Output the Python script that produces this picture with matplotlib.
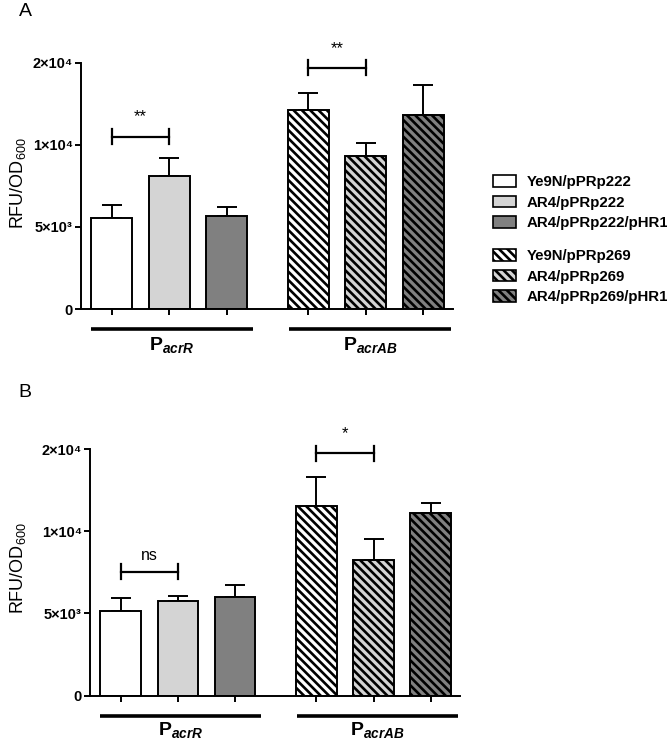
import numpy as np
import matplotlib
matplotlib.use('Agg')
import matplotlib.pyplot as plt
from matplotlib.patches import Patch
import matplotlib.transforms as mtransforms

plt.rcParams['font.family'] = ['Liberation Sans', 'DejaVu Sans']
plt.rcParams['mathtext.fontset'] = 'custom'
plt.rcParams['mathtext.rm'] = 'Liberation Sans'
plt.rcParams['mathtext.it'] = 'Liberation Sans:italic:bold'
plt.rcParams['mathtext.bf'] = 'Liberation Sans:bold'
plt.rcParams['hatch.linewidth'] = 1.9
plt.rcParams['hatch.color'] = 'black'

# Datos
strains = ['Ye9N/pPRp222', 'AR4/pPRp222', 'AR4/pPRp222/pHR1',
           'Ye9N/pPRp269', 'AR4/pPRp269', 'AR4/pPRp269/pHR1']
groups = [r'$\mathbf{P}_{acrR}$', r'$\mathbf{P}_{acrAB}$']

mean_A = [5570, 8110, 5650, 12120, 9310, 11850]
sem_A  = [770, 1100, 550, 1050, 830, 1810]

mean_B = [5170, 5740, 6000, 11520, 8270, 11130]
sem_B  = [755, 325, 710, 1800, 1280, 570]

yticks = [0, 5000, 10000, 15000]
ytick_labels = ['0', '5×10³', '1×10⁴', '2×10⁴']

# comparaciones: (barra i, barra j, texto, altura)
sig_A = [(0, 1, '**', 10510), (3, 4, '**', 14700)]
sig_B = [(0, 1, 'ns', 7540), (3, 4, '*', 14745)]

fills = ['white', '#d4d4d4', '#808080', 'white', '#d4d4d4', '#808080']
hatches = [None, None, None, '\\\\\\\\', '\\\\\\\\', '\\\\\\\\']
xpos = np.array([0, 1, 2, 3.42, 4.42, 5.42])

fig = plt.figure(figsize=(6.67, 7.39), dpi=100)
axA = fig.add_axes([81/667, 1-309/739, 371.7/667, 246/739])
axB = fig.add_axes([90/667, 1-695.7/739, 370/667, 246.7/739])


def panel(ax, means, sems, sigs, label_y):
    for i in range(6):
        ax.bar(xpos[i], means[i], width=0.71, color=fills[i], edgecolor='black',
               linewidth=1.4, hatch=hatches[i], zorder=2)
    ax.errorbar(xpos, means, yerr=[np.zeros(6), sems], fmt='none', ecolor='black',
                elinewidth=1.4, capsize=7, capthick=1.4, zorder=1)
    ax.set_xlim(-0.535, 5.93)
    ax.set_ylim(0, 15000)
    ax.set_yticks(yticks)
    ax.set_yticklabels(ytick_labels, fontsize=10.5, fontweight='bold')
    ax.set_xticks(xpos)
    ax.set_xticklabels([])
    for s in ['top', 'right']:
        ax.spines[s].set_visible(False)
    for s in ['left', 'bottom']:
        ax.spines[s].set_linewidth(1.4)
    ax.tick_params(axis='both', width=1.4, length=4, pad=2)

    # grupos bajo el eje
    trans = mtransforms.blended_transform_factory(ax.transData, ax.transAxes)
    for (x0, x1), lab in zip([(-0.365, 2.45), (3.09, 5.9)], groups):
        ax.plot([x0, x1], [-0.083, -0.083], color='black', lw=2.6,
                transform=trans, clip_on=False, solid_capstyle='butt')
        ax.text((x0 + x1) / 2, label_y, lab, transform=trans, ha='center',
                va='baseline', fontsize=14)

    # barras de significancia
    for i, j, txt, y in sigs:
        h = 460
        ax.plot([xpos[i], xpos[j]], [y, y], color='black', lw=1.6, clip_on=False)
        ax.plot([xpos[i], xpos[i]], [y - h, y + h], color='black', lw=1.6, clip_on=False)
        ax.plot([xpos[j], xpos[j]], [y - h, y + h], color='black', lw=1.6, clip_on=False)
        if txt == 'ns':
            ax.text((xpos[i] + xpos[j]) / 2, y + 1000, txt, ha='center', va='center',
                    fontsize=11.5, clip_on=False)
        else:
            ax.text((xpos[i] + xpos[j]) / 2, y + 1200, txt, ha='center', va='center',
                    fontsize=12, clip_on=False)


panel(axA, mean_A, sem_A, sig_A, -41/246)
panel(axB, mean_B, sem_B, sig_B, -39/246.7)

fig.text(18/667, 1-183/739, r'RFU/OD$_{600}$', rotation=90, fontsize=13,
         ha='center', va='center')
fig.text(18/667, 1-568/739, r'RFU/OD$_{600}$', rotation=90, fontsize=13,
         ha='center', va='center')

fig.text(25/667, 1-12/739, 'A', fontsize=14, ha='center', va='center')
fig.text(25/667, 1-392/739, 'B', fontsize=14, ha='center', va='center')

# leyenda
handles = [Patch(facecolor=fills[i], edgecolor='black', linewidth=1.2, hatch=hatches[i],
                 label=strains[i]) for i in range(6)]
kw = dict(frameon=False, handlelength=1.5, handleheight=0.8,
          handletextpad=0.75, labelspacing=0.42, borderpad=0, borderaxespad=0,
          prop={'weight': 'bold', 'size': 10.8})
fig.legend(handles=handles[:3], loc='center left',
           bbox_to_anchor=(493/667, 1-202.7/739), **kw)
fig.legend(handles=handles[3:], loc='center left',
           bbox_to_anchor=(493/667, 1-276.7/739), **kw)

fig.savefig('out.png', dpi=100)
